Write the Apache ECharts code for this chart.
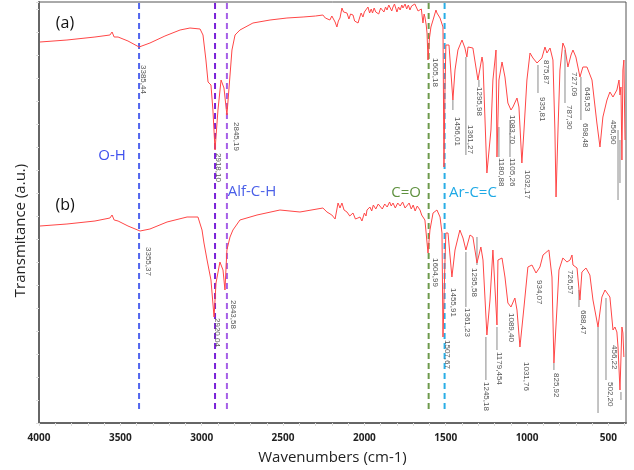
<!DOCTYPE html>
<html>
<head>
<meta charset="utf-8">
<script src="https://cdn.jsdelivr.net/npm/echarts@6/dist/echarts.min.js"></script>
<style>
  html, body { margin: 0; padding: 0; background: #fff; }
  #container { width: 634px; height: 470px; }
</style>
</head>
<body>
<div id="container"></div>
<script>
"use strict";

// spectrum (a): [wavenumber, transmittance (a.u.)]
const specA = [
    [3994, 381], [3828, 383], [3656, 386], [3564, 388], [3551, 391], [3538, 386], [3514, 386], [3453, 382], [3385, 376],
    [3318, 380], [3226, 387], [3133, 393], [3072, 395], [3010, 394], [2992, 388], [2974, 363], [2961, 341], [2943, 338],
    [2931, 313], [2918, 273], [2900, 313], [2881, 343], [2863, 335], [2851, 333], [2845, 308], [2832, 335], [2814, 373],
    [2795, 388], [2765, 393], [2685, 400], [2580, 403], [2476, 405], [2377, 406], [2300, 407], [2255, 408], [2240, 405],
    [2230, 404], [2212, 403], [2200, 407], [2193, 406], [2180, 401], [2169, 396], [2160, 402], [2150, 405], [2138, 415],
    [2128, 411], [2120, 409], [2107, 410], [2095, 404], [2085, 409], [2070, 408], [2060, 402], [2050, 404], [2039, 400],
    [2030, 405], [2020, 410], [2009, 406], [2000, 411], [1990, 412], [1978, 416], [1968, 410], [1958, 414], [1950, 410],
    [1940, 415], [1930, 411], [1923, 413], [1912, 409], [1900, 415], [1890, 416], [1880, 411], [1870, 416], [1861, 413],
    [1850, 418], [1840, 417], [1832, 412], [1824, 416], [1815, 419], [1800, 411], [1790, 416], [1780, 413], [1770, 418],
    [1763, 415], [1750, 419], [1740, 414], [1730, 418], [1720, 413], [1710, 417], [1701, 415], [1690, 419], [1680, 417],
    [1670, 412], [1658, 410], [1650, 414], [1640, 400], [1633, 409], [1628, 406], [1620, 398], [1615, 390], [1609, 363],
    [1600, 385], [1591, 396], [1578, 403], [1560, 413], [1554, 410], [1535, 405], [1517, 396], [1511, 256], [1505, 330],
    [1499, 378], [1492, 380], [1480, 378], [1456, 323], [1443, 353], [1425, 373], [1400, 383], [1382, 375], [1370, 366],
    [1363, 376], [1333, 375], [1302, 343], [1277, 366], [1271, 360], [1247, 250], [1222, 293], [1210, 343], [1191, 373],
    [1185, 266], [1173, 343], [1154, 361], [1136, 346], [1118, 320], [1099, 313], [1087, 316], [1062, 325], [1050, 316],
    [1032, 260], [1019, 293], [1001, 343], [982, 370], [964, 365], [939, 360], [909, 365], [890, 376], [878, 370],
    [859, 375], [841, 363], [829, 293], [822, 226], [810, 293], [798, 353], [780, 380], [767, 375], [749, 356],
    [730, 368], [718, 373], [700, 366], [675, 346], [657, 356], [632, 356], [601, 343], [571, 300], [552, 276],
    [534, 306], [509, 323], [491, 331], [472, 326], [448, 333], [435, 343], [429, 328], [423, 336], [417, 263],
    [411, 353], [405, 363], [398, 283]
];

// spectrum (b)
const specB = [
    [3994, 197], [3828, 199], [3656, 202], [3564, 205], [3551, 208], [3538, 203], [3514, 202], [3453, 197], [3379, 192],
    [3318, 194], [3213, 201], [3090, 206], [3023, 206], [2998, 193], [2986, 180], [2967, 163], [2955, 161], [2943, 143],
    [2924, 106], [2912, 140], [2888, 161], [2869, 153], [2857, 133], [2845, 173], [2826, 186], [2808, 193], [2765, 203],
    [2660, 208], [2519, 213], [2396, 211], [2255, 215], [2230, 211], [2200, 208], [2193, 206], [2180, 204], [2169, 203],
    [2162, 220], [2150, 215], [2138, 220], [2125, 213], [2107, 211], [2090, 207], [2070, 210], [2055, 204], [2040, 205],
    [2027, 206], [2015, 202], [2000, 210], [1990, 207], [1984, 213], [1966, 216], [1955, 212], [1945, 218], [1930, 214],
    [1915, 219], [1904, 218], [1890, 214], [1875, 219], [1860, 216], [1845, 221], [1835, 217], [1824, 220], [1810, 215],
    [1795, 220], [1780, 217], [1765, 221], [1750, 215], [1738, 216], [1725, 220], [1712, 214], [1700, 218], [1688, 212],
    [1675, 217], [1658, 213], [1648, 208], [1640, 210], [1628, 203], [1609, 170], [1597, 193], [1578, 210], [1554, 213],
    [1535, 206], [1523, 190], [1517, 86], [1505, 160], [1499, 190], [1486, 190], [1462, 146], [1443, 173], [1413, 193],
    [1394, 185], [1376, 173], [1351, 188], [1333, 186], [1308, 160], [1284, 176], [1271, 163], [1247, 88], [1228, 123],
    [1210, 173], [1185, 98], [1179, 163], [1154, 165], [1136, 146], [1118, 120], [1099, 116], [1075, 125], [1062, 113],
    [1044, 76], [1019, 116], [995, 156], [970, 158], [945, 150], [921, 156], [902, 168], [866, 173], [847, 146],
    [835, 60], [816, 116], [804, 153], [780, 165], [755, 161], [736, 163], [724, 168], [718, 158], [693, 155],
    [675, 123], [663, 151], [638, 155], [614, 148], [595, 123], [564, 96], [540, 126], [521, 133], [509, 135],
    [491, 126], [472, 93], [460, 96], [448, 91], [441, 76], [429, 33], [417, 96], [411, 90], [405, 66]
];

// peak labels (a)
const peakA_lbl = ['3385,44', '2918,10', '2845,19', '1605,18', '1456,01', '1361,27', '1295,98', '1180,88', '1083,70',
    '1105,26', '1032,17', '935,81', '875,87', '787,30', '727,09', '698,48', '649,53', '456,90'];
const peakA_wn = [3361, 2900, 2789, 1566, 1431, 1351, 1296, 1161, 1093, 1093, 1001, 909, 884, 743, 712, 644, 632, 472];
const peakA_tr = [358, 270, 301, 365, 306, 298, 336, 265, 308, 265, 253, 326, 363, 318, 351, 300, 336, 303];
const leadA_wn = [1456, 1376, 1296, 1173, 1105, 933, 767, 669, 441, 429];
const leadA_top = [323, 366, 343, 296, 303, 358, 373, 346, 293, 283];
const leadA_bot = [313, 268, 336, 266, 266, 330, 320, 303, 223, 240];

// peak labels (b)
const peakB_lbl = ['3355,37', '2920,04', '2843,58', '1604,99', '1507,67', '1455,91', '1361,23', '1295,58', '1245,18',
    '1179,454', '1089,40', '1031,76', '934,07', '825,92', '726,57', '688,47', '502,20', '456,22'];
const peakB_wn = [3330, 2906, 2808, 1566, 1492, 1456, 1370, 1327, 1253, 1173, 1099, 1007, 927, 822, 736, 657, 491, 466];
const peakB_tr = [176, 105, 123, 165, 83, 135, 115, 155, 41, 71, 110, 61, 143, 50, 153, 113, 41, 78];
const leadB_wn = [1376, 1308, 1253, 1185, 835, 681, 564, 515, 423];
const leadB_top = [171, 186, 86, 96, 60, 133, 96, 125, 31];
const leadB_bot = [116, 158, 43, 73, 53, 116, 10, 43, 23];

// band markers
const bandWn = [3385, 2918, 2845, 1605, 1507];
const bandColor = ['#5266ee', '#7a22d8', '#a55fe6', '#6e9a4c', '#2aaee6'];
const bandName = ['O-H', 'Alf-C-H', 'C=O', 'Ar-C=C'];
const bandNameWn = [3551, 2691, 1744, 1333];
const bandNameTr = [267, 231, 230, 230];
const bandNameColor = ['#3f50ee', '#4a5fe8', '#5f913f', '#1fa9e5'];

const panelName = ['(a)', '(b)'];
const panelWn = [3840, 3840];
const panelTr = [400, 218];

const xTicks = [];
for (let w = 400; w <= 4000; w += 100) xTicks.push(w);
const xLabels = [4000, 3500, 3000, 2500, 2000, 1500, 1000, 500];

let myChart = echarts.init(document.getElementById('container'));

function peakSeries(lbl, wn, tr) {
    return {
        type: 'custom',
        silent: true,
        data: wn.map(function (w, i) { return [w, tr[i], i]; }),
        renderItem: function (params, api) {
            let p = api.coord([api.value(0), api.value(1)]);
            return {
                type: 'text',
                x: p[0],
                y: p[1],
                rotation: -Math.PI / 2,
                style: {
                    text: lbl[api.value(2)],
                    fill: '#555',
                    fontSize: 8,
                    fontFamily: 'Liberation Sans Narrow, Liberation Sans, sans-serif',
                    align: 'left',
                    verticalAlign: 'middle'
                }
            };
        }
    };
}

function leaderSeries(wn, top, bot) {
    return {
        type: 'custom',
        silent: true,
        data: wn.map(function (w, i) { return [w, top[i], bot[i]]; }),
        renderItem: function (params, api) {
            let a = api.coord([api.value(0), api.value(1)]);
            let b = api.coord([api.value(0), api.value(2)]);
            return {
                type: 'line',
                shape: { x1: a[0], y1: a[1], x2: b[0], y2: b[1] },
                style: { stroke: '#8a8a8a', lineWidth: 1 }
            };
        }
    };
}

function textSeries(names, wn, tr, colors, size) {
    return {
        type: 'custom',
        silent: true,
        data: wn.map(function (w, i) { return [w, tr[i], i]; }),
        renderItem: function (params, api) {
            let p = api.coord([api.value(0), api.value(1)]);
            return {
                type: 'text',
                x: p[0],
                y: p[1],
                style: {
                    text: names[api.value(2)],
                    fill: colors[api.value(2)],
                    fontSize: size,
                    fontFamily: 'Open Sans',
                    align: 'center',
                    verticalAlign: 'middle'
                }
            };
        }
    };
}

let option = {
    animation: false,
    grid: {
        left: 39, right: 8, top: 2, bottom: 47,
        show: true, borderColor: '#555', borderWidth: 1
    },
    xAxis: {
        type: 'value',
        inverse: true,
        min: 392,
        max: 4000,
        name: 'Wavenumbers (cm-1)',
        nameLocation: 'middle',
        nameGap: 27,
        nameTextStyle: { fontSize: 15, color: '#222', fontFamily: 'Open Sans' },
        axisLine: { lineStyle: { color: '#666', width: 2 } },
        axisTick: { customValues: xTicks, length: 3, lineStyle: { color: '#ddd' } },
        axisLabel: {
            customValues: xLabels,
            formatter: function (v) { return String(v); },
            margin: 10,
            fontSize: 10,
            fontWeight: 'bold',
            color: '#222',
            fontFamily: 'Open Sans'
        },
        splitLine: { show: false }
    },
    yAxis: {
        type: 'value',
        min: 0,
        max: 421,
        interval: 23,
        name: 'Transmitance (a.u.)',
        nameLocation: 'middle',
        nameGap: 11,
        nameTextStyle: { fontSize: 15, color: '#222', fontFamily: 'Open Sans', padding: [0, 36, 0, 0] },
        axisLine: { show: true, lineStyle: { color: '#666', width: 2 } },
        axisTick: { show: true, length: 3, lineStyle: { color: '#ddd' } },
        axisLabel: { show: false },
        splitLine: { show: false }
    },
    series: [
        {
            type: 'custom',
            silent: true,
            data: bandWn.map(function (w, i) { return [w, i]; }),
            renderItem: function (params, api) {
                let a = api.coord([api.value(0), 420]);
                let b = api.coord([api.value(0), 10]);
                return {
                    type: 'line',
                    shape: { x1: a[0], y1: a[1], x2: b[0], y2: b[1] },
                    style: { stroke: bandColor[api.value(1)], lineWidth: 2, lineDash: [6, 4] }
                };
            }
        },
        {
            type: 'line',
            data: specA,
            showSymbol: false,
            lineStyle: { color: '#ff4646', width: 1 },
            z: 3
        },
        {
            type: 'line',
            data: specB,
            showSymbol: false,
            lineStyle: { color: '#ff4646', width: 1 },
            z: 3
        },
        leaderSeries(leadA_wn, leadA_top, leadA_bot),
        leaderSeries(leadB_wn, leadB_top, leadB_bot),
        peakSeries(peakA_lbl, peakA_wn, peakA_tr),
        peakSeries(peakB_lbl, peakB_wn, peakB_tr),
        textSeries(bandName, bandNameWn, bandNameTr, bandNameColor, 15),
        textSeries(panelName, panelWn, panelTr, ['#111', '#111'], 16)
    ]
};

myChart.setOption(option);

window.addEventListener('resize', function () {
    myChart.resize();
});
</script>
</body>
</html>
